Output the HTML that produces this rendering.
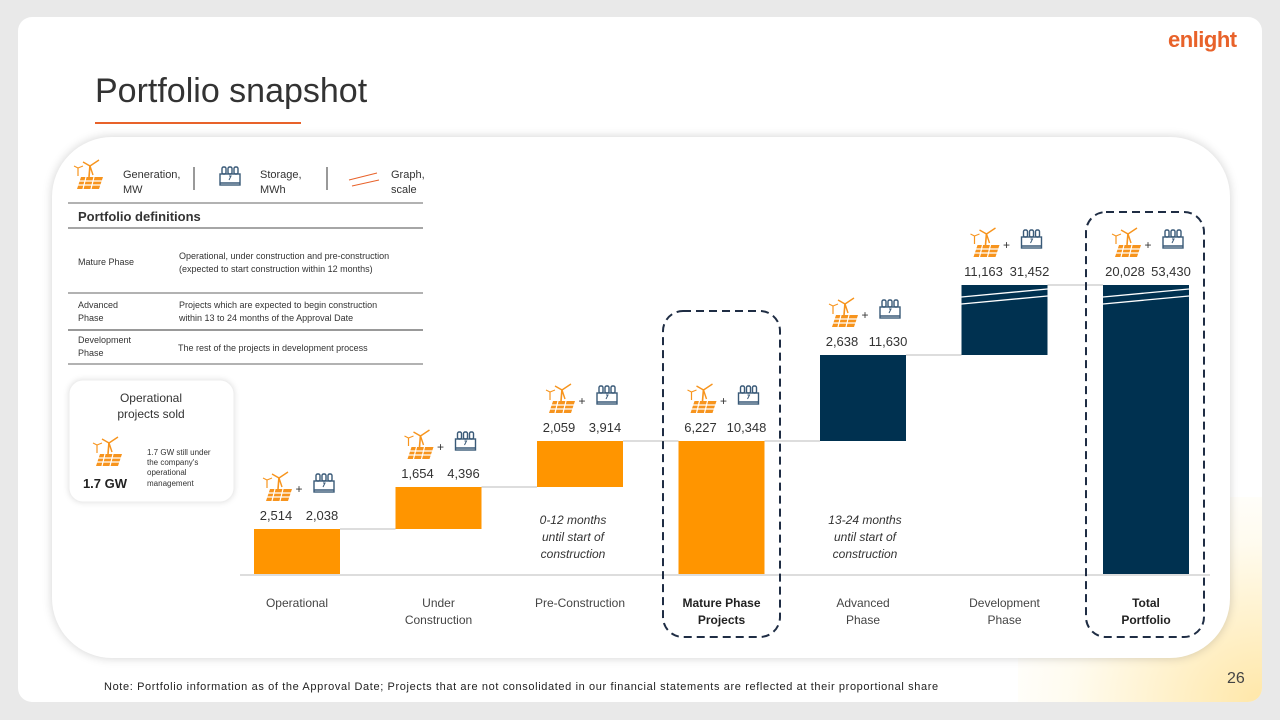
<!DOCTYPE html>
<html style="overflow:hidden"><head><meta charset="utf-8">
<style>
html,body{margin:0;width:1280px;height:720px;overflow:hidden}
body{background:#e9e9e9;font-family:"Liberation Sans",sans-serif;position:relative}
#slide{position:absolute;left:18px;top:17px;width:1244px;height:685px;background:#fff;border-radius:14px;overflow:hidden}
#glow{position:absolute;left:1000px;top:480px;width:244px;height:205px;background:radial-gradient(ellipse at 100% 100%,rgba(255,215,110,.6),rgba(255,240,190,.25) 55%,rgba(255,255,255,0) 80%)}
#card{position:absolute;left:52px;top:137px;width:1178px;height:521px;background:#fff;border-radius:60px;box-shadow:0 0 10px rgba(0,0,0,.18)}
.t{position:absolute;color:#333;white-space:nowrap}
svg text{font-family:"Liberation Sans",sans-serif}
</style></head><body>
<div id="slide">
<div id="glow"></div>
</div>
<div id="card"></div>
<div class="t" style="left:95px;top:72px;font-size:34px;color:#333">Portfolio snapshot</div>
<div style="position:absolute;left:95px;top:122px;width:206px;height:2px;background:#e8622a"></div>
<div class="t" style="left:1168px;top:27px;font-size:22px;font-weight:bold;color:#e8622a;letter-spacing:-0.5px">enlight</div>
<div class="t" style="left:104px;top:681px;font-size:11px;letter-spacing:0.62px;color:#222">Note: Portfolio information as of the Approval Date; Projects that are not consolidated in our financial statements are reflected at their proportional share</div>
<div class="t" style="left:1227px;top:670px;font-size:16px;color:#444">26</div>

<svg width="1280" height="720" style="position:absolute;left:0;top:0;display:block">
<defs>
<g id="gen">
<path d="M8,14 L30,14 L26,26 L4,26 Z" fill="#f7941d"/>
<path d="M5,18 L29,18 M3,22 L28,22 M13,14 L10,26 M21,14 L18,26" stroke="#fff" stroke-width="1.2"/>
<line x1="16" y1="14" x2="17" y2="2" stroke="#f7941d" stroke-width="1.6"/>
<path d="M17,3 L26,-3 M17,3 L10,-1 M17,3 L20,12" stroke="#f7941d" stroke-width="1.4"/>
<line x1="5" y1="13" x2="5" y2="5" stroke="#f7941d" stroke-width="1.2"/>
<path d="M5,5 L1,3 M5,5 L10,3" stroke="#f7941d" stroke-width="1"/>
</g>
<g id="bat" fill="none" stroke="#3a5a78" stroke-width="1.4">
<rect x="0" y="10" width="20" height="11"/><line x1="0" y1="19" x2="20" y2="19"/>
<rect x="2" y="3" width="4" height="7" rx="1.5"/><rect x="8" y="3" width="4" height="7" rx="1.5"/><rect x="14" y="3" width="4" height="7" rx="1.5"/>
<path d="M9,12 L11,12 L9,16" stroke-width="1"/>
</g>
</defs>
<g id="legend">
<use href="#gen" x="73" y="163"/>
<text x="123" y="178" font-size="11" fill="#333">Generation,</text><text x="123" y="193" font-size="11" fill="#333">MW</text>
<line x1="194" y1="167" x2="194" y2="190" stroke="#333"/>
<use href="#bat" x="220" y="164"/>
<text x="260" y="178" font-size="11" fill="#333">Storage,</text><text x="260" y="193" font-size="11" fill="#333">MWh</text>
<line x1="327" y1="167" x2="327" y2="190" stroke="#333"/>
<path d="M349,180 L377,173 M352,186 L379,180" stroke="#e8622a" stroke-width="1"/>
<text x="391" y="178" font-size="11" fill="#333">Graph,</text><text x="391" y="193" font-size="11" fill="#333">scale</text>
</g>
<g font-size="9" fill="#333">
<line x1="68" y1="203" x2="423" y2="203" stroke="#999" stroke-width="1.5"/>
<text x="78" y="221" font-size="13" font-weight="bold">Portfolio definitions</text>
<line x1="68" y1="228" x2="423" y2="228" stroke="#888" stroke-width="1.5"/>
<text x="78" y="265">Mature Phase</text>
<text x="179" y="259">Operational, under construction and pre-construction</text>
<text x="179" y="272">(expected to start construction within 12 months)</text>
<line x1="68" y1="293" x2="423" y2="293" stroke="#999" stroke-width="1.5"/>
<text x="78" y="308">Advanced</text><text x="78" y="321">Phase</text>
<text x="179" y="308">Projects which are expected to begin construction</text>
<text x="179" y="321">within 13 to 24 months of the Approval Date</text>
<line x1="68" y1="330" x2="423" y2="330" stroke="#333" stroke-width="1"/>
<text x="78" y="343">Development</text><text x="78" y="356">Phase</text>
<text x="178" y="351">The rest of the projects in development process</text>
<line x1="68" y1="364" x2="423" y2="364" stroke="#999" stroke-width="1.5"/>
</g>
<g>
<rect x="69" y="380" width="165" height="122" rx="14" fill="#fff" stroke="#eee" style="filter:drop-shadow(0 0 3px rgba(0,0,0,.12))"/>
<text x="151" y="402" font-size="12" text-anchor="middle" fill="#333">Operational</text>
<text x="151" y="418" font-size="12" text-anchor="middle" fill="#333">projects sold</text>
<use href="#gen" x="92" y="440"/>
<text x="105" y="488" font-size="13" font-weight="bold" text-anchor="middle" fill="#222">1.7 GW</text>
<text x="147" y="455" font-size="8" fill="#333">1.7 GW still under</text>
<text x="147" y="465" font-size="8" fill="#333">the company's</text>
<text x="147" y="475" font-size="8" fill="#333">operational</text>
<text x="147" y="486" font-size="8" fill="#333">management</text>
</g>
<line x1="240" y1="575" x2="1210" y2="575" stroke="#ddd" stroke-width="2"/>
<g id="bars"></g>
<g font-size="12" font-style="italic" fill="#333" text-anchor="middle">
<text x="573" y="524">0-12 months</text><text x="573" y="541">until start of</text><text x="573" y="558">construction</text>
<text x="865" y="524">13-24 months</text><text x="865" y="541">until start of</text><text x="865" y="558">construction</text>
</g>
<rect x="663" y="311" width="117" height="326" rx="20" fill="none" stroke="#1f2d44" stroke-width="2" stroke-dasharray="8,5"/>
<rect x="1086" y="212" width="118" height="425" rx="20" fill="none" stroke="#1f2d44" stroke-width="2" stroke-dasharray="8,5"/>
</svg>
<script>
const categories=["Operational","Under|Construction","Pre-Construction","Mature Phase|Projects","Advanced|Phase","Development|Phase","Total|Portfolio"];
const generation=[2514,1654,2059,6227,2638,11163,20028];
const storage=[2038,4396,3914,10348,11630,31452,53430];
const kinds=["step","step","step","total","step","step","total"];
const boldLabel=[false,false,false,true,false,false,true];
// broken (not to scale) value axis: value breakpoints -> pixel offsets from baseline
const axisVals=[0,2514,4168,6227,8865,20028];
const axisPix=[0,45,87,133,219,289];
const baseY=574, x0=254, step=141.5, bw=86;
function yScale(v){
  for(let i=1;i<axisVals.length;i++){
    if(v<=axisVals[i]){const t=(v-axisVals[i-1])/(axisVals[i]-axisVals[i-1]);return baseY-(axisPix[i-1]+t*(axisPix[i]-axisPix[i-1]));}
  }
  return baseY-axisPix[axisPix.length-1];
}
function xScale(i){return x0+i*step;}
const NS="http://www.w3.org/2000/svg";
const g=document.getElementById('bars');
function mk(tag,attrs){const e=document.createElementNS(NS,tag);for(const k in attrs)e.setAttribute(k,attrs[k]);g.appendChild(e);return e;}
let cum=0,prevTop=null;
categories.forEach((c,i)=>{
  let lo,hi;
  if(kinds[i]==="total"){lo=0;hi=generation[i];cum=generation[i];}
  else{lo=cum;hi=cum+generation[i];cum=hi;}
  const yTop=yScale(hi),yBot=yScale(lo),x=xScale(i),cx=x+bw/2;
  const dark=i>=4;
  const bar=mk('rect',{x:x,y:yTop,width:bw,height:yBot-yTop,fill:dark?'#003150':'#ff9500'});
  
  
  if(i>=5){
    mk('path',{d:`M${x},${yTop+12} L${x+bw},${yTop+4} M${x},${yTop+19} L${x+bw},${yTop+11}`,stroke:'#fff','stroke-width':1.3});
  }
  if(prevTop!==null){
    const cl=mk('line',{x1:xScale(i-1)+bw,x2:x,y1:prevTop,y2:prevTop,stroke:'#bbb','stroke-width':1});
    
    
  }
  prevTop=yTop;
  const t1=mk('text',{x:cx-21,y:yTop-9,'font-size':13,fill:'#333','text-anchor':'middle'});t1.textContent=generation[i].toLocaleString('en-US');
  
  
  const t2=mk('text',{x:cx+25,y:yTop-9,'font-size':13,fill:'#333','text-anchor':'middle'});t2.textContent=storage[i].toLocaleString('en-US');
  
  
  mk('use',{href:'#gen',x:cx-35,y:yTop-54});
  mk('use',{href:'#bat',x:cx+17,y:yTop-58});
  const p=mk('text',{x:cx+2,y:yTop-36,'font-size':12,fill:'#333','text-anchor':'middle'});p.textContent='+';
  c.split('|').forEach((ln,j)=>{
    const lt=mk('text',{x:cx,y:607+j*17,'font-size':12,fill:boldLabel[i]?'#222':'#444','font-weight':boldLabel[i]?'bold':'normal','text-anchor':'middle'});
    lt.textContent=ln;
    
    
  });
});
</script>
</body></html>
